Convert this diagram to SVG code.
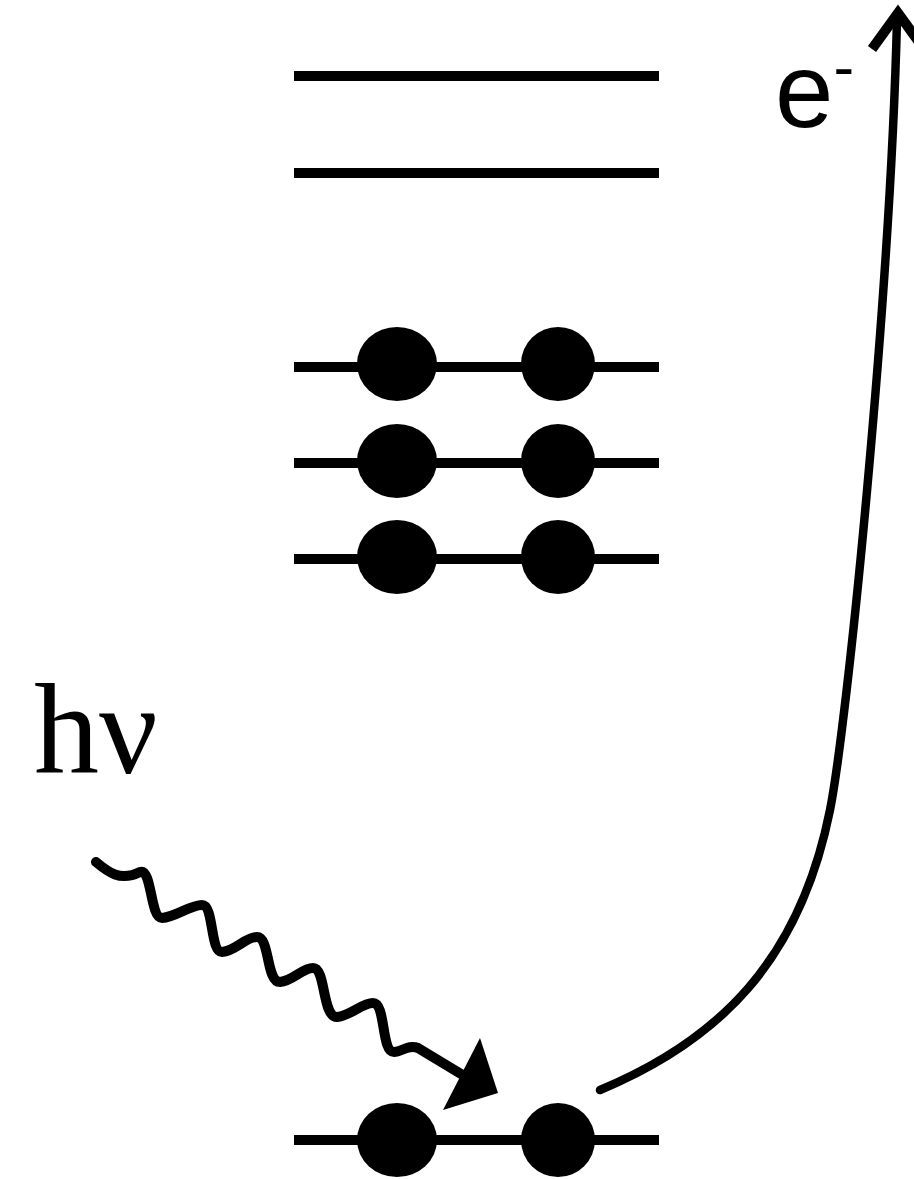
<svg xmlns="http://www.w3.org/2000/svg" width="914" height="1179" viewBox="0 0 914 1179">
  <style>
    .lvl { stroke: #000; stroke-width: 10; stroke-linecap: butt; fill: none; }
    .el { fill: #000; }
    .conn { stroke: #000; fill: none; stroke-linecap: round; }
    .lbl { fill: #000; }
  </style>
  <rect width="914" height="1179" fill="#fff"/>
  <g id="level-empty-1"><line class="lvl" x1="294" y1="76" x2="659" y2="76"/></g>
  <g id="level-empty-2"><line class="lvl" x1="294" y1="173" x2="659" y2="173"/></g>
  <g id="level-filled-1">
    <line class="lvl" x1="294" y1="367" x2="659" y2="367"/>
    <ellipse class="el" cx="397" cy="364" rx="40" ry="37"/>
    <circle class="el" cx="558" cy="364" r="37"/>
  </g>
  <g id="level-filled-2">
    <line class="lvl" x1="294" y1="463" x2="659" y2="463"/>
    <ellipse class="el" cx="397" cy="461" rx="40" ry="37"/>
    <circle class="el" cx="558" cy="461" r="37"/>
  </g>
  <g id="level-filled-3">
    <line class="lvl" x1="294" y1="559" x2="659" y2="559"/>
    <ellipse class="el" cx="397" cy="557" rx="40" ry="37"/>
    <circle class="el" cx="558" cy="557" r="37"/>
  </g>
  <g id="level-core">
    <line class="lvl" x1="294" y1="1140" x2="659" y2="1140"/>
    <ellipse class="el" cx="397" cy="1140" rx="40" ry="37"/>
    <circle class="el" cx="558" cy="1140" r="37"/>
  </g>
  <g id="label-hv">
    <text class="lbl" x="34" y="773" font-family="'Liberation Serif', serif" font-size="130">hν</text>
  </g>
  <g id="label-e">
    <text class="lbl" x="775" y="127" font-family="'Liberation Sans', sans-serif" font-size="105">e<tspan font-size="62" dy="-39">-</tspan></text>
  </g>
  <g id="connectors">
    <path class="conn" stroke-width="10" stroke-linejoin="round" d="M96,862 C108,872 120,882 140,872 C152,868 150,918 162,918 C176,917 190,905 202,905 C214,905 210,952 222,952 C236,951 245,937 257,937 C270,937 266,982 280,982 C293,981 302,968 313,968 C326,968 322,1017 337,1017 C350,1016 362,1003 373,1003 C386,1003 381,1052 394,1052 C402,1052 408,1044 418,1048 L466,1077"/>
    <polygon fill="#000" points="480,1038 498,1093 443,1110"/>
    <path class="conn" stroke-width="8.5" d="M600,1090 C720,1040 800,960 830,810 C847,725 890,300 897,20"/>
    <path fill="none" stroke="#000" stroke-width="10" stroke-linejoin="miter" d="M872,49 L898,13 L924,49"/>
  </g>
</svg>
